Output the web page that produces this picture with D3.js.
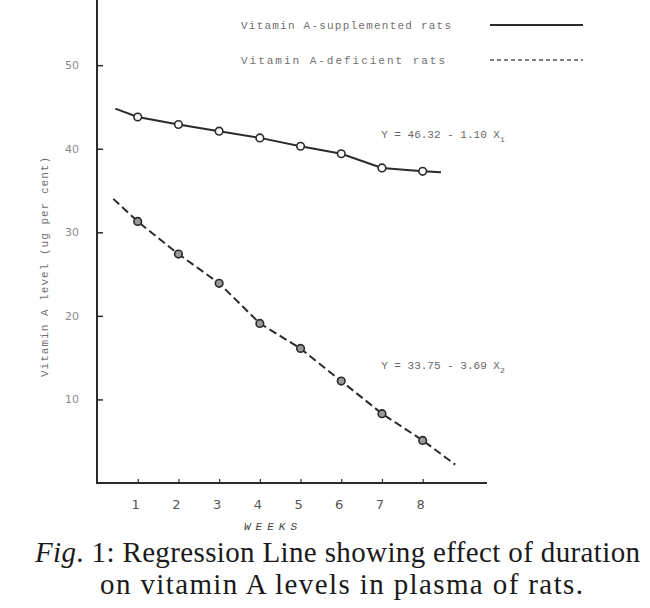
<!DOCTYPE html>
<html>
<head>
<meta charset="utf-8">
<script src="https://cdn.jsdelivr.net/npm/d3@7"></script>
<style>
	body { margin: 0; background: #fff; }
	svg { display: block; }
</style>
</head>
<body>
<svg width="650" height="608"></svg>
<script>
// values
const weeks = [1, 2, 3, 4, 5, 6, 7, 8];
const supplemented = [43.8, 42.9, 42.1, 41.3, 40.3, 39.4, 37.7, 37.3];
const deficient = [31.3, 27.4, 23.9, 19.1, 16.1, 12.2, 8.3, 5.1];
// where the drawn lines run on past the first and last point
const supplementedEnds = [[0.45, 44.8], [8.45, 37.2]];
const deficientEnds = [[0.4, 34.0], [8.8, 2.2]];
const yTicks = [10, 20, 30, 40, 50];
const xTickLabels = ["1", "2", "3", "4", "5", "6", "7", "8"];
const legendLabels = ["Vitamin A-supplemented rats", "Vitamin A-deficient rats"];
const equations = [
	["Y = 46.32 - 1.10 X", "1"],
	["Y = 33.75 - 3.69 X", "2"],
];
const captionLines = [
	["Fig", ". 1: Regression Line showing effect of duration"],
	["", "on vitamin A levels in plasma of rats."],
];

class RegressionChart {
	constructor() {
		this.svg = d3.select("svg");
		this.ink = "#2b2b2b";
		this.typeInk = "#707070";
		this.mono = "'Liberation Mono', 'DejaVu Sans Mono', monospace";
		this.xScale = d3.scaleLinear().domain([0, 9.58]).range([97, 487]);
		this.yScale = d3.scaleLinear().domain([0, 57.8]).range([483, 0]);
		this.drawAxes();
		this.drawSeries(supplemented, supplementedEnds, null, "#fafafa");
		this.drawSeries(deficient, deficientEnds, "8,4", "#9a9a9a");
		this.drawLegend();
		this.drawEquations();
		this.drawCaption();
	}

	drawAxes = () => {
		const g = this.svg.append("g").attr("class", "axes");
		g.append("g")
			.attr("transform", "translate(97,0)")
			.call(
				d3.axisRight(this.yScale)
					.tickValues(yTicks)
					.tickSize(6)
					.tickFormat("")
			)
			.call((a) => a.select(".domain").remove())
			.call((a) => a.selectAll(".tick line").attr("stroke", this.ink).attr("stroke-width", 1.5));
		g.append("g")
			.attr("transform", "translate(0,483)")
			.call(
				d3.axisTop(this.xScale)
					.tickValues(weeks)
					.tickSize(4)
					.tickFormat("")
			)
			.call((a) => a.select(".domain").remove())
			.call((a) => a.selectAll(".tick line").attr("stroke", this.ink).attr("stroke-width", 1.2));

		// axis lines drawn by hand so the y axis runs to the top edge
		g.append("line")
			.attr("x1", 97).attr("x2", 97)
			.attr("y1", 0).attr("y2", 484)
			.attr("stroke", this.ink).attr("stroke-width", 2);
		g.append("line")
			.attr("x1", 96).attr("x2", this.xScale.range()[1])
			.attr("y1", 483).attr("y2", 483)
			.attr("stroke", this.ink).attr("stroke-width", 2);

		g.selectAll(".ylab")
			.data(yTicks)
			.join("text")
			.attr("class", "ylab")
			.attr("x", 72)
			.attr("y", (d) => this.yScale(d) + 4)
			.attr("text-anchor", "middle")
			.attr("font-family", "'DejaVu Sans', sans-serif")
			.attr("font-size", 11)
			.attr("fill", "#8a8a8a")
			.text((d) => d);

		g.selectAll(".xlab")
			.data(weeks)
			.join("text")
			.attr("class", "xlab")
			.attr("x", (d) => this.xScale(d) - 2)
			.attr("y", 509)
			.attr("text-anchor", "middle")
			.attr("font-family", "'DejaVu Sans', sans-serif")
			.attr("font-size", 13)
			.attr("fill", "#555")
			.text((d, i) => xTickLabels[i]);

		g.append("text")
			.attr("x", 273)
			.attr("y", 530)
			.attr("text-anchor", "middle")
			.attr("font-family", this.mono)
			.attr("font-style", "italic")
			.attr("font-size", 11)
			.attr("fill", "#444")
			.attr("letter-spacing", 5)
			.text("WEEKS");

		g.append("text")
			.attr("transform", "translate(48,267) rotate(-90)")
			.attr("text-anchor", "middle")
			.attr("font-family", this.mono)
			.attr("font-size", 11)
			.attr("fill", this.typeInk)
			.attr("textLength", 220)
			.attr("lengthAdjust", "spacing")
			.text("Vitamin A level (ug per cent)");
	};

	drawSeries = (values, ends, dash, fill) => {
		const points = weeks.map((w, i) => [w, values[i]]);
		const path = [ends[0]].concat(points, [ends[1]]);
		const line = d3.line()
			.x((d) => this.xScale(d[0]))
			.y((d) => this.yScale(d[1]));
		const g = this.svg.append("g");
		g.append("path")
			.attr("d", line(path))
			.attr("fill", "none")
			.attr("stroke", this.ink)
			.attr("stroke-width", 2)
			.attr("stroke-dasharray", dash);
		g.selectAll("circle")
			.data(points)
			.join("circle")
			.attr("cx", (d) => this.xScale(d[0]))
			.attr("cy", (d) => this.yScale(d[1]))
			.attr("r", 3.8)
			.attr("fill", fill)
			.attr("stroke", this.ink)
			.attr("stroke-width", 1.6);
	};

	drawLegend = () => {
		const g = this.svg.append("g");
		const rows = [25, 60];
		const widths = [210, 204];
		legendLabels.forEach((label, i) => {
			g.append("text")
				.attr("x", 241)
				.attr("y", rows[i] + 4)
				.attr("font-family", this.mono)
				.attr("font-size", 11)
				.attr("fill", this.typeInk)
				.attr("textLength", widths[i])
				.attr("lengthAdjust", "spacing")
				.text(label);
			g.append("line")
				.attr("x1", 490).attr("x2", 583)
				.attr("y1", rows[i]).attr("y2", rows[i])
				.attr("stroke", i === 0 ? this.ink : "#555")
				.attr("stroke-width", i === 0 ? 2 : 1.3)
				.attr("stroke-dasharray", i === 0 ? null : "4,3");
		});
	};

	drawEquations = () => {
		const spots = [[6.98, 41.3], [6.98, 13.7]];
		equations.forEach((eq, i) => {
			const t = this.svg.append("text")
				.attr("x", this.xScale(spots[i][0]))
				.attr("y", this.yScale(spots[i][1]))
				.attr("font-family", this.mono)
				.attr("font-size", 11)
				.attr("fill", "#666")
				.attr("xml:space", "preserve");
			t.append("tspan").text(eq[0]);
			t.append("tspan")
				.attr("dy", 4)
				.attr("font-size", 8)
				.text(eq[1]);
		});
	};

	drawCaption = () => {
		const g = this.svg.append("g")
			.attr("font-family", "'Liberation Serif', 'Times New Roman', serif")
			.attr("font-size", 29)
			.attr("fill", "#1a1a1a");
		const baselines = [562, 594];
		const starts = [35, 100];
		const lengths = [605, 483];
		captionLines.forEach((parts, i) => {
			const t = g.append("text")
				.attr("x", starts[i])
				.attr("y", baselines[i])
				.attr("textLength", lengths[i])
				.attr("lengthAdjust", "spacing");
			if (parts[0]) t.append("tspan").attr("font-style", "italic").text(parts[0]);
			t.append("tspan").text(parts[1]);
		});
	};
}

new RegressionChart();
</script>
</body>
</html>
